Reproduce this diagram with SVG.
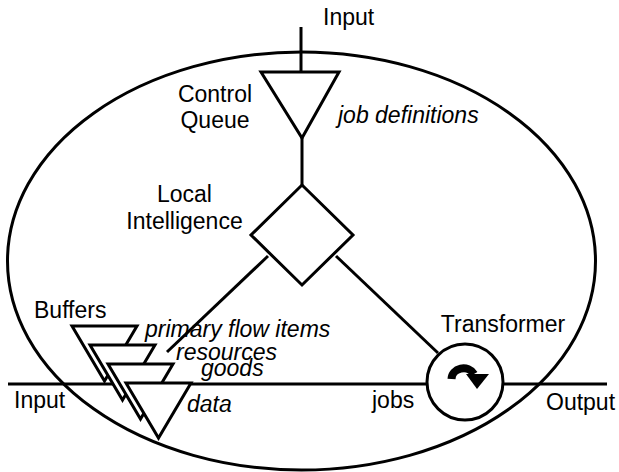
<svg xmlns="http://www.w3.org/2000/svg" width="619" height="472" viewBox="0 0 619 472">
  <style>
    .ln { fill: none; stroke: #000; stroke-width: 3; }
    .sh { fill: #fff; stroke: #000; stroke-width: 3; stroke-linejoin: miter; }
    text { font-family: "Liberation Sans", Arial, sans-serif; font-size: 23px; fill: #000; }
    .it { font-style: italic; }
  </style>
  <rect width="619" height="472" fill="#fff"/>

  <!-- system boundary -->
  <g id="boundary">
    <ellipse cx="301.5" cy="261" rx="294" ry="209" class="ln"/>
  </g>

  <!-- flow lines and connectors -->
  <g id="connectors">
    <line x1="301" y1="27" x2="301" y2="72" class="ln"/>
    <line x1="302" y1="138" x2="302" y2="185" class="ln"/>
    <line x1="268" y1="256" x2="167" y2="352" class="ln"/>
    <line x1="336" y1="256" x2="438" y2="353" class="ln"/>
    <line x1="8" y1="384" x2="427" y2="384" class="ln"/>
    <line x1="503" y1="384" x2="607" y2="384" class="ln"/>
  </g>

  <!-- control queue -->
  <g id="control-queue">
    <polygon points="261,72 339,72 302,138" class="sh"/>
    <text x="215" y="102" text-anchor="middle">Control</text>
    <text x="215" y="128" text-anchor="middle">Queue</text>
    <text x="338" y="123" class="it">job definitions</text>
  </g>

  <!-- local intelligence -->
  <g id="local-intelligence">
    <polygon points="302,185 353,235 302,285 251,235" class="sh"/>
    <text x="184.5" y="202" text-anchor="middle">Local</text>
    <text x="184.5" y="229" text-anchor="middle">Intelligence</text>
  </g>

  <!-- buffers -->
  <g id="buffers">
    <polygon points="72,326 137,326 104.5,381" class="sh"/>
    <polygon points="90,345 155,345 122.5,400" class="sh"/>
    <polygon points="108,364 173,364 140.5,419" class="sh"/>
    <polygon points="126,383 191,383 158.5,438" class="sh"/>
    <text x="34" y="318">Buffers</text>
    <text x="145" y="337" class="it">primary flow items</text>
    <text x="176" y="360" class="it">resources</text>
    <text x="201" y="376" class="it">goods</text>
    <text x="187" y="412" class="it">data</text>
  </g>

  <!-- transformer -->
  <g id="transformer">
    <circle cx="465" cy="382" r="38" class="sh"/>
    <path d="M451.5,379 A12,11 0 0 1 474,374" fill="none" stroke="#000" stroke-width="8"/>
    <polygon points="466,374 489,374 477,389" fill="#000"/>
    <text x="503" y="332" text-anchor="middle">Transformer</text>
  </g>

  <!-- io labels -->
  <g id="labels">
    <text x="323" y="25">Input</text>
    <text x="14" y="408">Input</text>
    <text x="372" y="408">jobs</text>
    <text x="546" y="410">Output</text>
  </g>
</svg>
